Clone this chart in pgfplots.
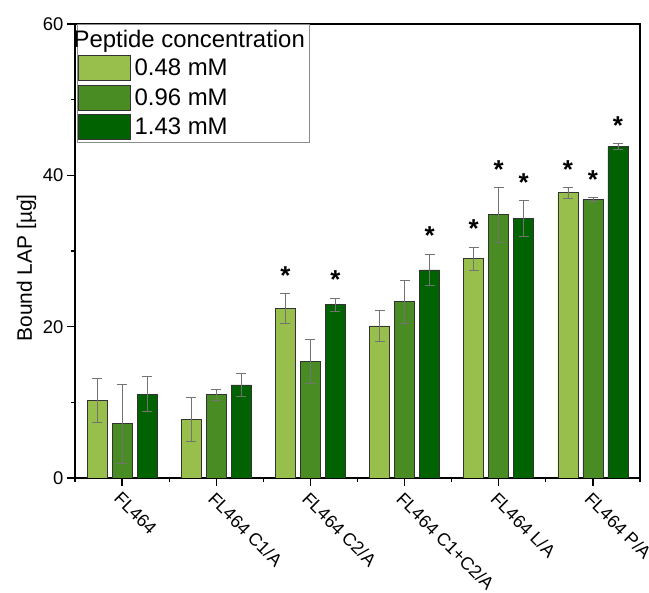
\documentclass[border=0pt]{standalone}
\usepackage{pgfplots}
\pgfplotsset{compat=1.18}
\usepackage{pgfplotstable}
\usepackage{fontspec}
\setmainfont{Liberation Sans}
\definecolor{cA}{RGB}{152,190,76}
\definecolor{cB}{RGB}{74,140,36}
\definecolor{cC}{RGB}{0,98,0}
\pgfplotsset{bigleg/.style={legend image code/.code={\draw[##1] (0bp,-12.5bp) rectangle (52bp,12.5bp);}},
  errst/.style={error bars/.cd, y dir=both, y explicit,
  error bar style={black!55, line width=0.7bp},
  error mark options={rotate=90, mark size=5bp, black!55, line width=0.7bp}}}

\pgfplotstableread{
x y e
0 10.3 2.9
1 7.7 2.9
2 22.4 2.0
3 20.1 2.1
4 29.0 1.5
5 37.7 0.7
}\dataA
\pgfplotstableread{
x y e
0 7.15 5.2
1 11.0 0.7
2 15.4 2.9
3 23.3 2.8
4 34.8 3.6
5 36.8 0.3
}\dataB
\pgfplotstableread{
x y e
0 11.1 2.3
1 12.3 1.5
2 22.9 0.9
3 27.5 2.1
4 34.3 2.4
5 43.8 0.4
}\dataC
\pgfplotstableread{
x y
1.7345 26.8
3.7345 32.9
4.7345 40.8
4.0 40.8
5.0 39.5
2.2655 26.2
3.2655 32.0
4.2655 39.1
5.2655 46.6
}\stars

\begin{document}
\begin{tikzpicture}
\begin{axis}[name=ax, scale only axis, width=565bp, height=454bp,
  ybar=5bp, bar width=20bp,
  xmin=-0.5, xmax=5.5, ymin=0, ymax=60,
  xtick={0,...,5},
  xticklabels={FL464, FL464 C1/A, FL464 C2/A, FL464 C1+C2/A, FL464 L/A, FL464 P/A},
  minor xtick={-0.5,0.5,...,5.5},
  ytick={0,20,40,60}, minor ytick={10,30,50},
  tick align=outside, tick pos=left,
  major tick length=8bp, minor tick length=4bp,
  axis line style={line width=1.3bp},
  every tick/.style={black, line width=1.2bp},
  xticklabel style={rotate=-45, anchor=north west, font=\fontsize{18}{21}\selectfont},
  yticklabel style={font=\fontsize{18.5}{21}\selectfont},
  /pgf/number format/assume math mode=true,
  ylabel={Bound LAP [µg]},
  ylabel style={at={(ticklabel cs:0.463)}, font=\fontsize{21}{24}\selectfont},
  legend cell align=left,
  legend style={at={(0,1)}, anchor=north west, xshift=2bp, draw=black!45, line width=0.6bp,
    font=\fontsize{24}{27}\selectfont, inner xsep=1bp, inner ysep=2bp, row sep=4bp,
    nodes={inner xsep=3.5bp, inner ysep=2bp}},
  ]
\addlegendimage{legend image code/.code={}}
\addlegendentry{\hspace*{-61bp}\rule[-5bp]{0pt}{24bp}Peptide concentration}
\addplot[fill=cA, draw=black!80, line width=0.8bp, bigleg, errst]
  table[x=x, y=y, y error=e]{\dataA};
\addlegendentry{0.48 mM}
\addplot[fill=cB, draw=black!80, line width=0.8bp, bigleg, errst]
  table[x=x, y=y, y error=e]{\dataB};
\addlegendentry{0.96 mM}
\addplot[fill=cC, draw=black!80, line width=0.8bp, bigleg, errst]
  table[x=x, y=y, y error=e]{\dataC};
\addlegendentry{1.43 mM}
\end{axis}
\begin{axis}[at={(ax.south west)}, anchor=south west, scale only axis,
  width=565bp, height=454bp, xmin=-0.5, xmax=5.5, ymin=0, ymax=60, hide axis]
\addplot[only marks, mark=text, text mark={\fontsize{26}{26}\selectfont\bfseries *}]
  table[x=x, y=y]{\stars};
\end{axis}
\pgfresetboundingbox
\path ([xshift=-75bp,yshift=-115bp]ax.south west) rectangle ([xshift=9bp,yshift=24bp]ax.north east);
\end{tikzpicture}
\end{document}
